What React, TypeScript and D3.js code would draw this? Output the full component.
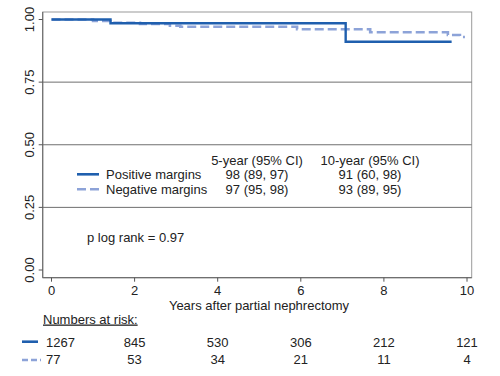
import React from "react";
import * as d3 from "d3";

const xTicks = [0, 2, 4, 6, 8, 10];
const yTicks = [0, 0.25, 0.5, 0.75, 1];
const gridValues = [0.25, 0.5, 0.75];

// Kaplan-Meier steps: [time (years), survival]
const positiveCurve: [number, number][] = [
  [0, 1], [1.42, 0.985], [7.08, 0.911], [9.63, 0.911],
];
const negativeCurve: [number, number][] = [
  [0, 1], [1.0, 0.994], [1.42, 0.987], [2.13, 0.982], [2.85, 0.975], [3.1, 0.971],
  [5.91, 0.961], [7.67, 0.949], [9.54, 0.938], [9.83, 0.93], [9.95, 0.93],
];

const seriesNames = ["Positive margins", "Negative margins"];
const fiveYear = ["98 (89, 97)", "97 (95, 98)"];
const tenYear = ["91 (60, 98)", "93 (89, 95)"];
const riskPositive = [1267, 845, 530, 306, 212, 121];
const riskNegative = [77, 53, 34, 21, 11, 4];

const SOLID = "#1f5fae";
const DASH = "#8da3d8";
const FONT = "Liberation Sans, Arial, sans-serif";

export default function App() {
  const W = 500, H = 376;
  const x = d3.scaleLinear().domain([0, 10]).range([51.5, 467]);
  const y = d3.scaleLinear().domain([0, 1]).range([270, 19.5]);
  const frame = { left: 42.7, right: 471.7, top: 12, bottom: 277.7 };
  const line = d3.line<[number, number]>()
    .x((d) => x(d[0]))
    .y((d) => y(d[1]))
    .curve(d3.curveStepAfter);
  const fs = 13;
  return (
    <svg width={W} height={H} style={{ position: "absolute", left: 0, top: 0, background: "#fff" }} fontFamily={FONT}>
      <rect x={0} y={0} width={W} height={H} fill="#fff" />
      {/* frame */}
      <rect x={frame.left} y={frame.top} width={frame.right - frame.left} height={frame.bottom - frame.top}
        fill="none" stroke="#9a9a9a" strokeWidth={1} />
      {gridValues.map((v) => (
        <line key={v} x1={frame.left} x2={frame.right} y1={y(v)} y2={y(v)} stroke="#6f6f6f" strokeWidth={1} />
      ))}
      <line x1={frame.left} x2={frame.left} y1={frame.top} y2={frame.bottom} stroke="#6f6f6f" strokeWidth={1.2} />
      <line x1={frame.left} x2={frame.right} y1={frame.bottom} y2={frame.bottom} stroke="#6f6f6f" strokeWidth={1.2} />
      {/* y ticks */}
      {yTicks.map((v) => (
        <g key={v}>
          <line x1={frame.left - 4} x2={frame.left} y1={y(v)} y2={y(v)} stroke="#555" />
          <text transform={`translate(${34},${y(v)}) rotate(-90)`} textAnchor="middle" fontSize={fs} fill="#222">
            {d3.format(".2f")(v)}
          </text>
        </g>
      ))}
      {/* x ticks */}
      {xTicks.map((v) => (
        <g key={v}>
          <line x1={x(v)} x2={x(v)} y1={frame.bottom} y2={frame.bottom + 4} stroke="#555" />
          <text x={x(v)} y={frame.bottom + 17.5} textAnchor="middle" fontSize={fs} fill="#222">{v}</text>
        </g>
      ))}
      <text x={259} y={309.5} textAnchor="middle" fontSize={fs} fill="#222">Years after partial nephrectomy</text>
      {/* curves */}
      <path d={line(negativeCurve) || ""} fill="none" stroke={DASH} strokeWidth={2.6} strokeDasharray="9,4" />
      <path d={line(positiveCurve) || ""} fill="none" stroke={SOLID} strokeWidth={2.4} />
      {/* legend */}
      <text x={257} y={164.5} textAnchor="middle" fontSize={fs} fill="#222">5-year (95% CI)</text>
      <text x={370} y={164.5} textAnchor="middle" fontSize={fs} fill="#222">10-year (95% CI)</text>
      {seriesNames.map((name, i) => {
        const ly = 174.3 + i * 15;
        return (
          <g key={name}>
            <line x1={77} x2={99} y1={ly} y2={ly} stroke={i === 0 ? SOLID : DASH} strokeWidth={2.6}
              strokeDasharray={i === 0 ? undefined : "9,4"} />
            <text x={106} y={ly + 4.7} fontSize={fs} fill="#222">{name}</text>
            <text x={257} y={ly + 4.7} textAnchor="middle" fontSize={fs} fill="#222">{fiveYear[i]}</text>
            <text x={370} y={ly + 4.7} textAnchor="middle" fontSize={fs} fill="#222">{tenYear[i]}</text>
          </g>
        );
      })}
      <text x={87} y={241.5} fontSize={fs} fill="#222">p log rank = 0.97</text>
      {/* numbers at risk */}
      <text x={43} y={323.5} fontSize={fs} fill="#222" textDecoration="underline">Numbers at risk:</text>
      <line x1={22} x2={38} y1={341.7} y2={341.7} stroke={SOLID} strokeWidth={2.6} />
      <line x1={22} x2={41} y1={360} y2={360} stroke={DASH} strokeWidth={2.6} strokeDasharray="6,3" />
      {[riskPositive, riskNegative].map((row, r) => (
        <g key={r}>
          {row.map((n, i) => (
            <text key={i} x={i === 0 ? 46 : x(xTicks[i])} y={346.5 + r * 17.5}
              textAnchor={i === 0 ? "start" : "middle"} fontSize={fs} fill="#222">{n}</text>
          ))}
        </g>
      ))}
    </svg>
  );
}
